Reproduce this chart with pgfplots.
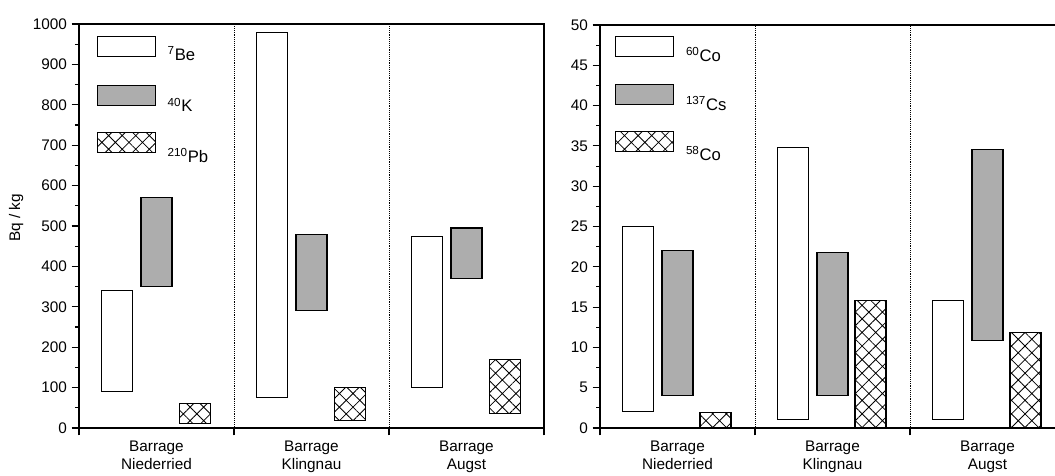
\documentclass[border=0pt]{standalone}
\usepackage{fontspec}
\setmainfont{Liberation Sans}
\usepackage{pgfplots}
\pgfplotsset{compat=1.18}
\usepackage{pgfplotstable}
\usetikzlibrary{patterns.meta}

\pgfplotstableread{
g beLo beHi kLo kHi pbLo pbHi
0 90 340 350 570 10 60
1 75 980 290 480 18 100
2 100 475 370 495 35 170
}\tabA
\pgfplotstableread{
g coLo coHi csLo csHi cbLo cbHi
0 2 25 4 22 0 1.9
1 1 34.8 4 21.8 0 15.8
2 1 15.8 10.9 34.6 0 11.8
}\tabB

\newcommand\tickfont{\fontsize{11.5}{16}\selectfont}
\newcommand\xlabfont{\fontsize{11.5}{13.2}\selectfont}
\newcommand\legfont{\fontsize{12.5}{14}\selectfont}

\pgfplotsset{
 geomL/.style={scale only axis, width=348.75pt, height=303pt, at={(59.25pt,35.25pt)}, anchor=south west, xmin=-0.5, xmax=2.5, ymin=0, ymax=1000},
 geomR/.style={scale only axis, width=348.75pt, height=302.25pt, at={(450pt,35.25pt)}, anchor=south west, xmin=-0.5, xmax=2.5, ymin=0, ymax=50},
 frame/.style={
   axis line style={black, line width=1pt},
   tick style={black, line width=0.8pt},
   tick align=outside, xtick pos=left, ytick pos=left,
   major tick length=5.5pt, minor tick length=3pt,
   xtick={-0.5,0.5,1.5,2.5}, xticklabels={},
   xmajorgrids, major grid style={densely dotted, black, line width=0.5pt},
   extra x ticks={0,1,2},
   extra x tick labels={Barrage\\Niederried,Barrage\\Klingnau,Barrage\\Augst},
   extra x tick style={major tick length=0pt, grid=none},
   x tick label style={align=center, font=\xlabfont, yshift=-6.5pt},
   y tick label style={font=\tickfont},
   /pgf/number format/assume math mode=true,
   /pgf/number format/1000 sep={},
   minor y tick num=1,
   legend style={draw=none, fill=none, at={(0,1)}, anchor=north west, xshift=13pt, yshift=-9pt, row sep=14pt, column sep=7pt, font=\legfont, inner sep=0pt},
   legend cell align=left,
 },
 bars/.style={hide axis, ybar stacked, bar width=0.2},
 base/.style={draw=none, fill=none},
 wbar/.style={draw=black, line width=0.8pt, fill=white},
 gbar/.style={draw=black, line width=0.8pt, fill=black!32},
 hbar/.style={draw=black, line width=0.8pt, pattern={Hatch[angle=45,distance=7.2pt,line width=0.6pt]}},
 legW/.style={legend image code/.code={\draw[black, line width=0.8pt, fill=white] (0pt,-1pt) rectangle (43.5pt,14pt);}},
 legG/.style={legend image code/.code={\draw[black, line width=0.8pt, fill=black!32] (0pt,-1pt) rectangle (43.5pt,14pt);}},
 legH/.style={legend image code/.code={\draw[black, line width=0.8pt, pattern={Hatch[angle=45,distance=7.2pt,line width=0.6pt]}] (0pt,-1pt) rectangle (43.5pt,14pt);}},
}

\begin{document}
\begin{tikzpicture}
% ---------- left panel frame ----------
\begin{axis}[geomL, frame,
   ytick={0,100,...,1000},
   ylabel={Bq / kg},
   ylabel style={at={(axis description cs:-0.135,0.52)}, anchor=center, font=\tickfont},
 ]
 \addlegendimage{legW}\addlegendentry{\raisebox{1pt}{\legfont\textsuperscript{7}Be}}
 \addlegendimage{legG}\addlegendentry{\raisebox{-2pt}{\legfont\textsuperscript{40}K}}
 \addlegendimage{legH}\addlegendentry{\raisebox{-7pt}{\legfont\textsuperscript{210}Pb}}
\end{axis}
\begin{axis}[geomL, bars]
 \addplot[base] table[x expr=\thisrow{g}-0.255, y=beLo]{\tabA};
 \addplot[wbar] table[x expr=\thisrow{g}-0.255, y expr=\thisrow{beHi}-\thisrow{beLo}]{\tabA};
\end{axis}
\begin{axis}[geomL, bars]
 \addplot[base] table[x expr=\thisrow{g}, y=kLo]{\tabA};
 \addplot[gbar] table[x expr=\thisrow{g}, y expr=\thisrow{kHi}-\thisrow{kLo}]{\tabA};
\end{axis}
\begin{axis}[geomL, bars]
 \addplot[base] table[x expr=\thisrow{g}+0.25, y=pbLo]{\tabA};
 \addplot[hbar] table[x expr=\thisrow{g}+0.25, y expr=\thisrow{pbHi}-\thisrow{pbLo}]{\tabA};
\end{axis}
% ---------- right panel frame ----------
\begin{axis}[geomR, frame,
   ytick={0,5,...,50},
   legend style={xshift=-2pt, yshift=1pt},
 ]
 \addlegendimage{legW}\addlegendentry{\raisebox{-1pt}{\legfont\textsuperscript{60}Co}}
 \addlegendimage{legG}\addlegendentry{\raisebox{-2pt}{\legfont\textsuperscript{137}Cs}}
 \addlegendimage{legH}\addlegendentry{\raisebox{-6pt}{\legfont\textsuperscript{58}Co}}
\end{axis}
\begin{axis}[geomR, bars]
 \addplot[base] table[x expr=\thisrow{g}-0.255, y=coLo]{\tabB};
 \addplot[wbar] table[x expr=\thisrow{g}-0.255, y expr=\thisrow{coHi}-\thisrow{coLo}]{\tabB};
\end{axis}
\begin{axis}[geomR, bars]
 \addplot[base] table[x expr=\thisrow{g}, y=csLo]{\tabB};
 \addplot[gbar] table[x expr=\thisrow{g}, y expr=\thisrow{csHi}-\thisrow{csLo}]{\tabB};
\end{axis}
\begin{axis}[geomR, bars]
 \addplot[base] table[x expr=\thisrow{g}+0.245, y=cbLo]{\tabB};
 \addplot[hbar] table[x expr=\thisrow{g}+0.245, y expr=\thisrow{cbHi}-\thisrow{cbLo}]{\tabB};
\end{axis}
\pgfresetboundingbox
\path[use as bounding box] (0,0) rectangle (791.25pt,356.25pt);
\end{tikzpicture}
\end{document}
